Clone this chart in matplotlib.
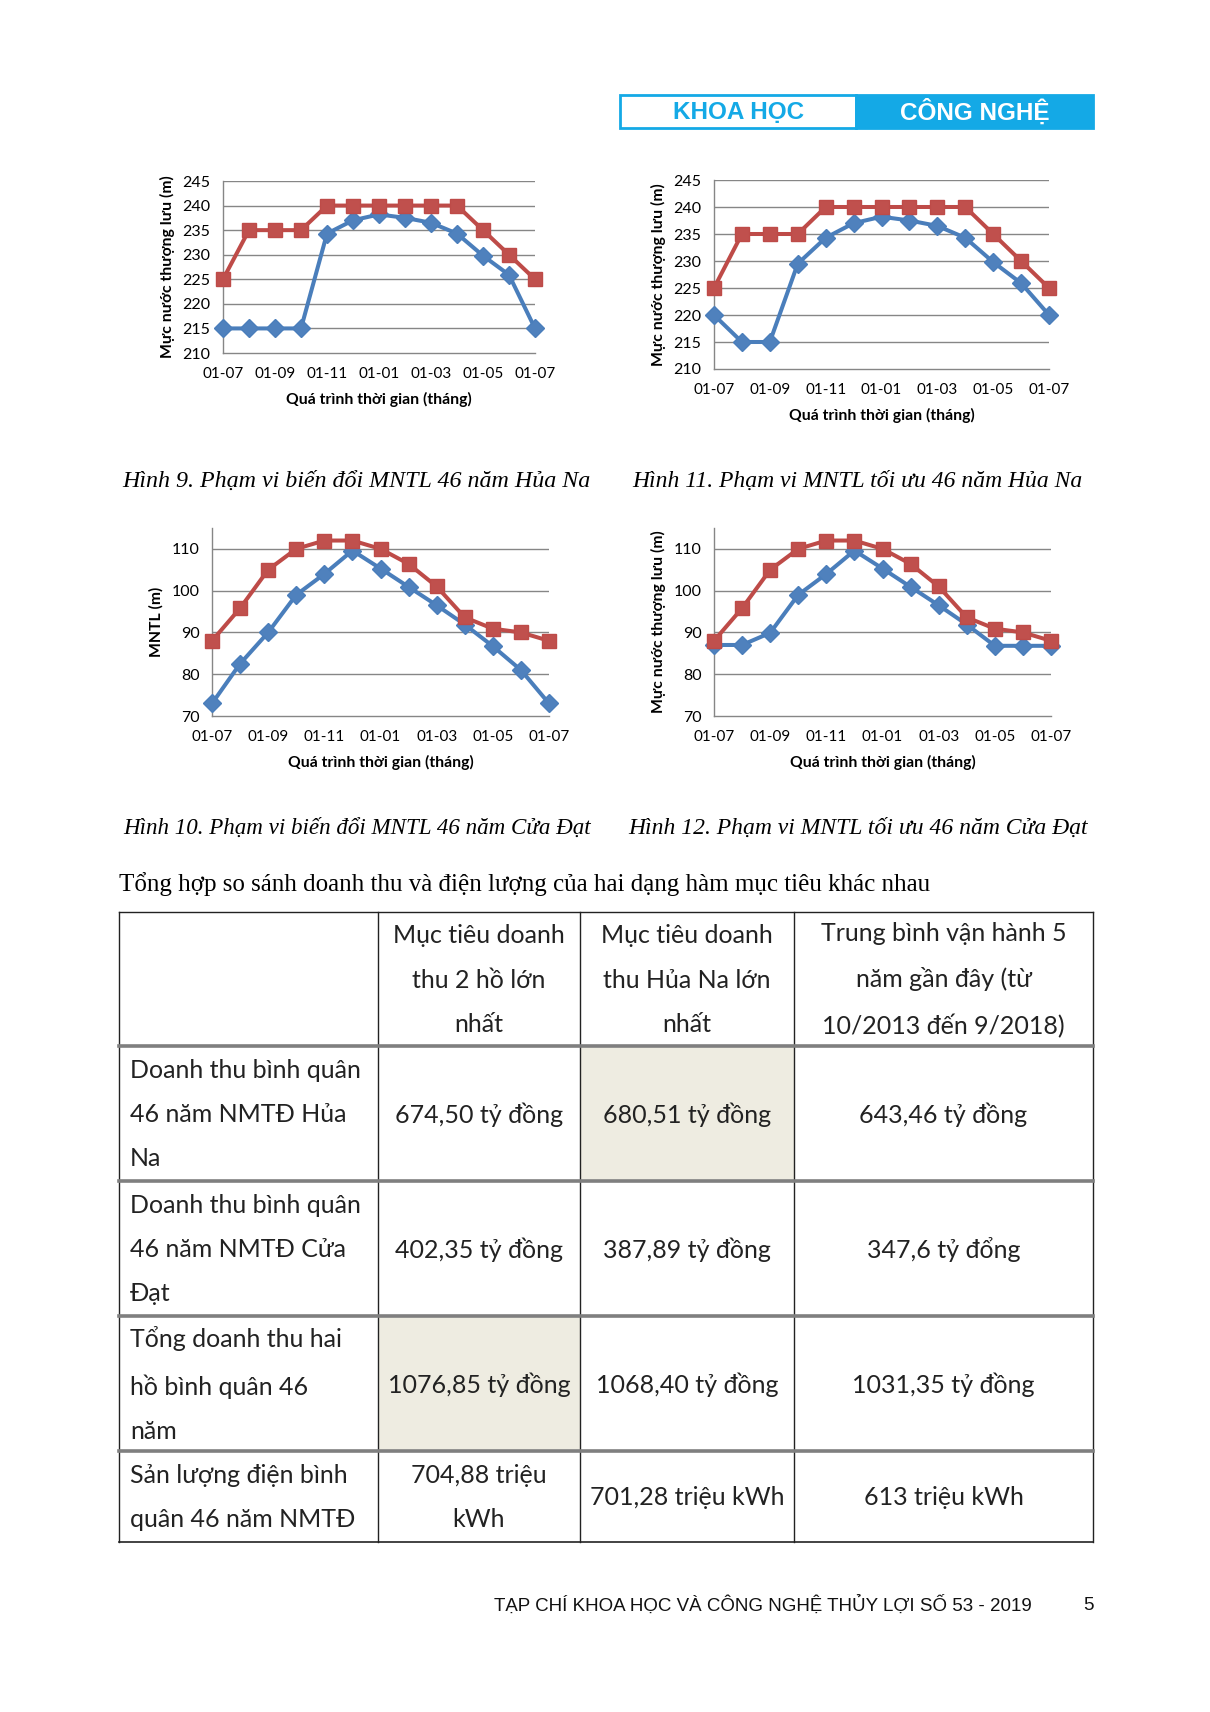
import matplotlib
matplotlib.use("Agg")
import matplotlib.pyplot as plt
from matplotlib.patches import Rectangle

W, H = 1210, 1712

# ---------------- data ----------------
month_idx = list(range(13))
tick_pos = [0, 2, 4, 6, 8, 10, 12]
tick_labels = ["01-07", "01-09", "01-11", "01-01", "01-03", "01-05", "01-07"]

huana_upper = [225, 235, 235, 235, 240, 240, 240, 240, 240, 240, 235, 230, 225]
huana_range_lower = [215, 215, 215, 215, 234.3, 237, 238.2, 237.5, 236.5, 234.3, 229.8, 225.9, 215]
huana_opt_lower = [220, 215, 215, 229.5, 234.3, 237, 238.2, 237.5, 236.5, 234.3, 229.8, 225.9, 220]

cuadat_upper = [88, 95.8, 105, 110, 112, 112, 110, 106.4, 101, 93.6, 90.9, 90, 88]
cuadat_range_lower = [73, 82.5, 90, 99, 104, 109.6, 105.3, 100.9, 96.5, 91.9, 86.7, 81, 73]
cuadat_opt_lower = [87, 87, 89.9, 99, 104, 109.6, 105.3, 100.9, 96.5, 91.9, 86.8, 86.8, 86.8]

captions = [
    "Hình 9. Phạm vi biến đổi MNTL 46 năm Hủa Na",
    "Hình 11. Phạm vi MNTL tối ưu 46 năm Hủa Na",
    "Hình 10. Phạm vi biến đổi MNTL 46 năm Cửa Đạt",
    "Hình 12. Phạm vi MNTL tối ưu 46 năm Cửa Đạt",
]
intro_text = "Tổng hợp so sánh doanh thu và điện lượng của hai dạng hàm mục tiêu khác nhau"

table_header = ["",
                "Mục tiêu doanh\nthu 2 hồ lớn\nnhất",
                "Mục tiêu doanh\nthu Hủa Na lớn\nnhất",
                "Trung bình vận hành 5\nnăm gần đây (từ\n10/2013 đến 9/2018)"]
row_labels = ["Doanh thu bình quân\n46 năm NMTĐ Hủa\nNa",
              "Doanh thu bình quân\n46 năm NMTĐ Cửa\nĐạt",
              "Tổng doanh thu hai\nhồ bình quân 46\nnăm",
              "Sản lượng điện bình\nquân 46 năm NMTĐ"]
col_two_lakes = ["674,50 tỷ đồng", "402,35 tỷ đồng", "1076,85 tỷ đồng", "704,88 triệu\nkWh"]
col_huana = ["680,51 tỷ đồng", "387,89 tỷ đồng", "1068,40 tỷ đồng", "701,28 triệu kWh"]
col_avg5 = ["643,46 tỷ đồng", "347,6 tỷ đổng", "1031,35 tỷ đồng", "613 triệu kWh"]
highlight_cells = [(0, 2), (2, 1)]  # (row, col)

header_left = "KHOA HỌC"
header_right = "CÔNG NGHỆ"
footer_text = "TẠP CHÍ KHOA HỌC VÀ CÔNG NGHỆ THỦY LỢI SỐ 53 - 2019"
page_no = "5"

# ---------------- style ----------------
BLUE = "#4A7EBB"
BLUE_M = "#4F81BD"
RED = "#BE4B48"
RED_M = "#C0504D"
GRID = "#868686"
CYAN = "#14A9E6"
CHART_FONT = ["Lato", "DejaVu Sans"]

fig = plt.figure(figsize=(W / 100, H / 100), dpi=100)
fig.patch.set_facecolor("white")

page = fig.add_axes([0, 0, 1, 1], zorder=0)
page.set_xlim(0, W)
page.set_ylim(H, 0)
page.axis("off")

# header boxes
page.add_patch(Rectangle((620, 95), 236, 33, facecolor="white", edgecolor=CYAN, lw=2))
page.add_patch(Rectangle((856, 95), 237, 33, facecolor=CYAN, edgecolor=CYAN, lw=2))
page.text(739, 112, header_left, color=CYAN, fontsize=17.5, fontweight="bold",
          family="Liberation Sans", ha="center", va="center")
page.text(975, 112, header_right, color="white", fontsize=17.5, fontweight="bold",
          family="Liberation Sans", ha="center", va="center")


def make_chart(rect_px, upper, lower, ylim, yticks, grid_vals, ylabel, label_x):
    x0, x1, ytop, ybot = rect_px
    ax = fig.add_axes([x0 / W, 1 - ybot / H, (x1 - x0) / W, (ybot - ytop) / H], zorder=2)
    ax.set_xlim(0, 12)
    ax.set_ylim(*ylim)
    for g in grid_vals:
        ax.axhline(g, color=GRID, lw=1.0, zorder=1)
    ax.plot(month_idx, lower, color=BLUE, lw=2.9, marker="D", ms=9,
            mfc=BLUE_M, mec=BLUE, clip_on=False, zorder=3)
    ax.plot(month_idx, upper, color=RED, lw=2.9, marker="s", ms=10.5,
            mfc=RED_M, mec=RED, clip_on=False, zorder=4)
    for s in ["top", "right"]:
        ax.spines[s].set_visible(False)
    for s in ["left", "bottom"]:
        ax.spines[s].set_color(GRID)
        ax.spines[s].set_linewidth(1.0)
    ax.set_yticks(yticks)
    ax.set_yticklabels([str(v) for v in yticks], family=CHART_FONT, fontsize=11.5)
    ax.set_xticks(tick_pos)
    ax.set_xticklabels(tick_labels, family=CHART_FONT, fontsize=11)
    ax.tick_params(axis="x", length=0, pad=10)
    ax.tick_params(axis="y", length=0, pad=9)
    ax.set_facecolor("none")
    ax.set_xlabel("Quá trình thời gian (tháng)", family=CHART_FONT, fontsize=11.3,
                  fontweight="bold", labelpad=8)
    ax.set_ylabel(ylabel, family=CHART_FONT, fontsize=11.3, fontweight="bold")
    ax.yaxis.set_label_coords((label_x - x0) / (x1 - x0), 0.5)
    return ax


hticks = [210, 215, 220, 225, 230, 235, 240, 245]
cticks = [70, 80, 90, 100, 110]
yl_full = "Mực nước thượng lưu (m)"

make_chart((223, 535, 181, 353), huana_upper, huana_range_lower, (210, 245),
           hticks, hticks[1:], yl_full, 175)
make_chart((714, 1049, 180, 369), huana_upper, huana_opt_lower, (210, 245),
           hticks, hticks[1:], yl_full, 666)
make_chart((212, 549, 528, 716), cuadat_upper, cuadat_range_lower, (70, 115),
           cticks, cticks[1:], "MNTL (m)", 164)
make_chart((714, 1051, 528, 716), cuadat_upper, cuadat_opt_lower, (70, 115),
           cticks, cticks[1:], yl_full, 666)

# captions
cap_pos = [(356, 481), (857, 481), (357, 828), (858, 828)]
cap_size = [17.3, 17, 16.6, 17]
for (cx, cy), txt, fs in zip(cap_pos, captions, cap_size):
    page.text(cx, cy, txt, family="Liberation Serif", style="italic", fontsize=fs,
              ha="center", va="center")

page.text(119, 884, intro_text, family="Liberation Serif", fontsize=18,
          ha="left", va="center")

# table
col_x = [119, 378, 580, 794, 1093]
row_y = [912, 1046, 1181, 1316, 1451, 1542]
TFONT = ["Lato", "DejaVu Sans"]
TSIZE = 18
LS = 2.12

for (r, c) in highlight_cells:
    page.add_patch(Rectangle((col_x[c], row_y[r + 1]), col_x[c + 1] - col_x[c],
                             row_y[r + 2] - row_y[r + 1], facecolor="#EEECE1",
                             edgecolor="none", zorder=1))

# outer/vertical lines
for x in col_x:
    page.plot([x, x], [row_y[0], row_y[-1]], color="#222222", lw=1.0, zorder=3)
page.plot([col_x[0], col_x[-1]], [row_y[0]] * 2, color="#222222", lw=1.0, zorder=3)
page.plot([col_x[0], col_x[-1]], [row_y[-1]] * 2, color="#222222", lw=1.2, zorder=3)
for y in row_y[1:-1]:
    page.plot([col_x[0], col_x[-1]], [y, y], color="#7F7F7F", lw=2.6, zorder=3)

for c in range(1, 4):
    page.text((col_x[c] + col_x[c + 1]) / 2, (row_y[0] + row_y[1]) / 2 + 1, table_header[c],
              family=TFONT, fontsize=TSIZE, ha="center", va="center",
              linespacing=LS, color="#222222", zorder=4)

cols = [col_two_lakes, col_huana, col_avg5]
for r in range(4):
    yc = (row_y[r + 1] + row_y[r + 2]) / 2 + 1
    page.text(col_x[0] + 11, yc, row_labels[r], family=TFONT, fontsize=TSIZE,
              ha="left", va="center", linespacing=LS, color="#222222", zorder=4)
    for c in range(3):
        page.text((col_x[c + 1] + col_x[c + 2]) / 2, yc, cols[c][r], family=TFONT,
                  fontsize=TSIZE, ha="center", va="center", linespacing=LS,
                  color="#222222", zorder=4)

# footer
page.text(494, 1605, footer_text, family="Liberation Sans", fontsize=13.5,
          ha="left", va="center", color="#111111")
page.text(1088, 1605, page_no, family="Liberation Sans", fontsize=13.5,
          ha="center", va="center", color="#111111")

fig.savefig("out.png", dpi=100, facecolor="white")
